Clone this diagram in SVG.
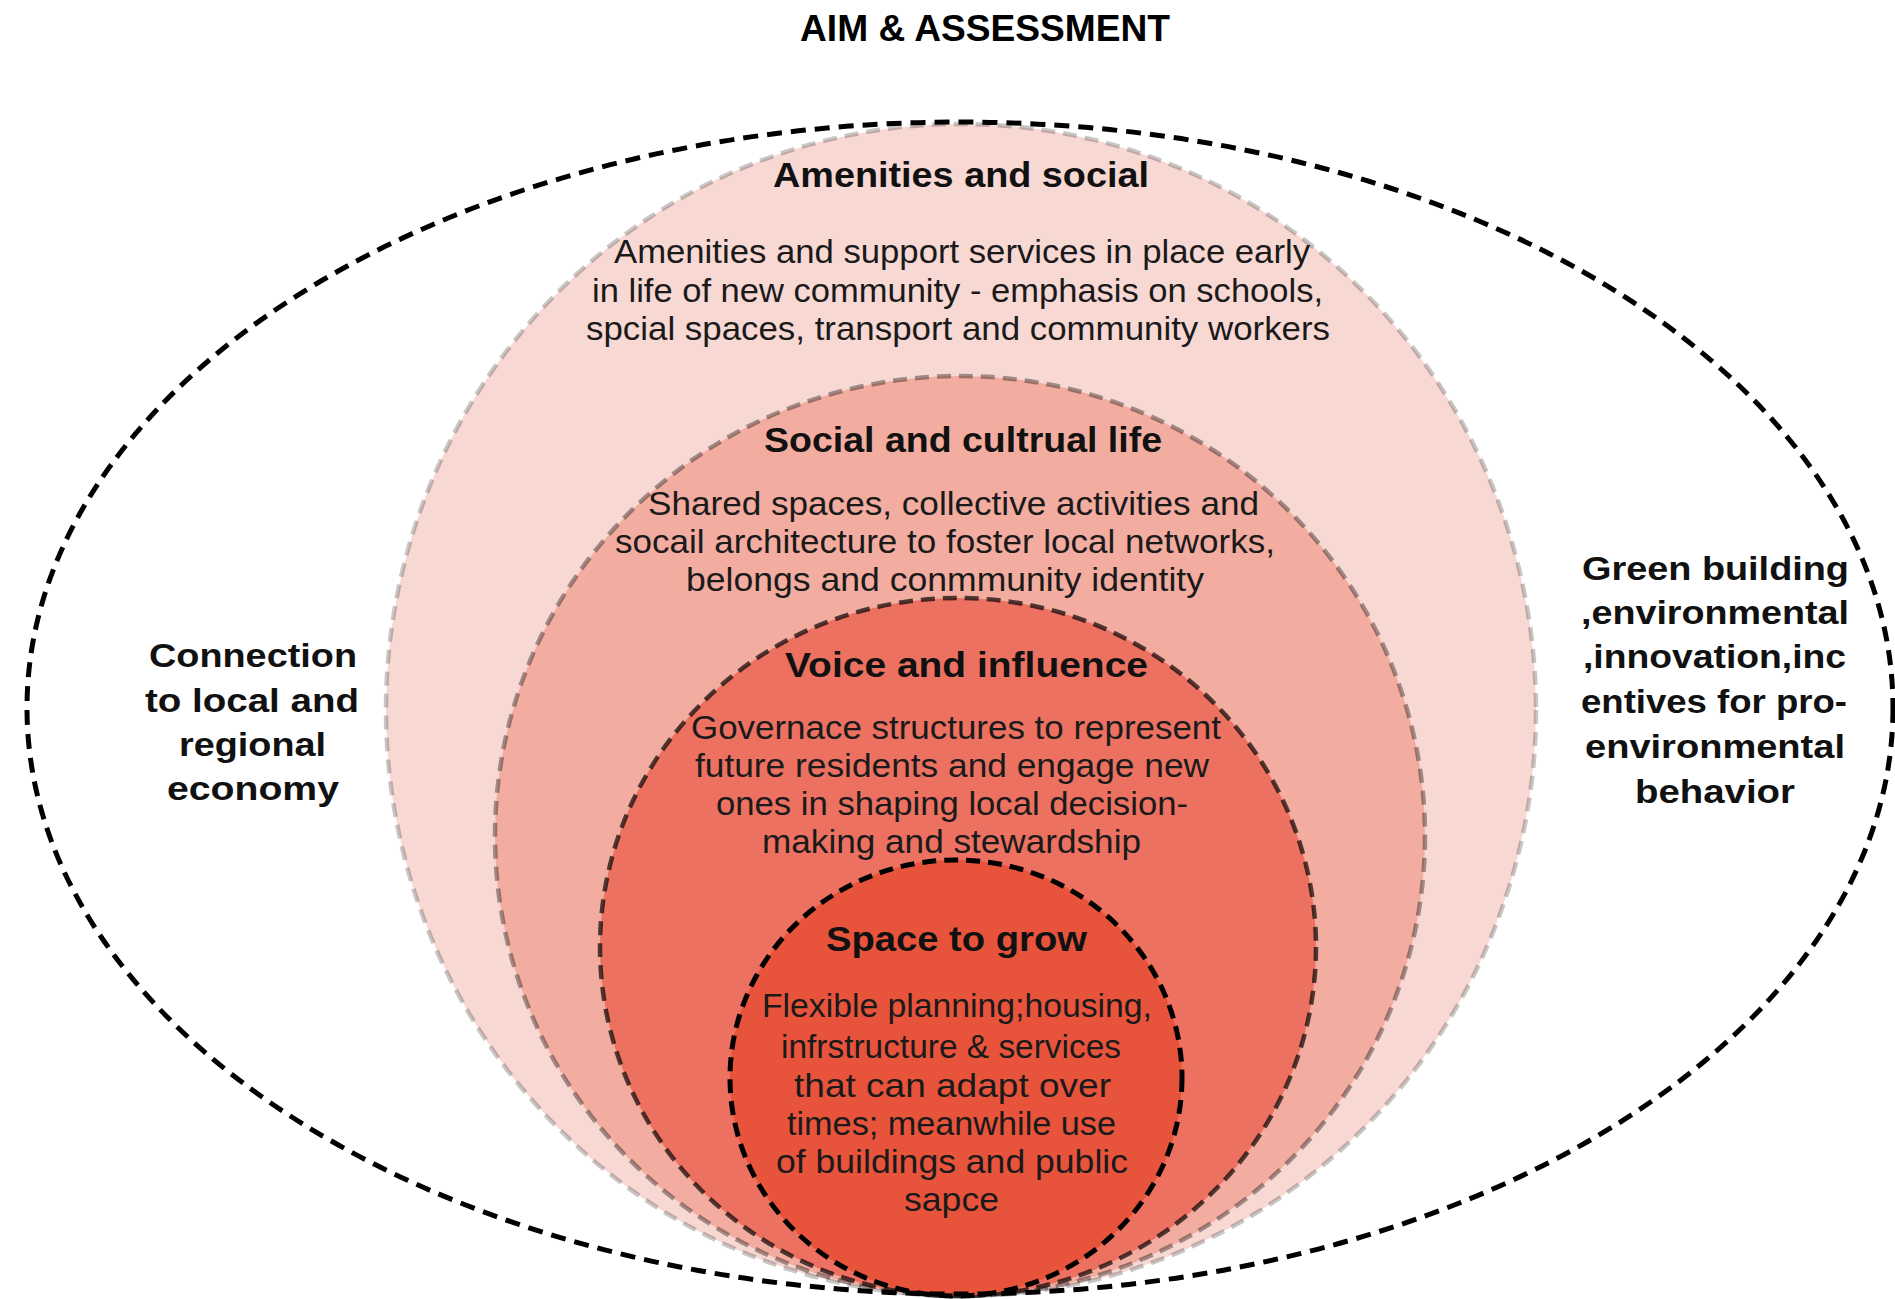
<svg xmlns="http://www.w3.org/2000/svg" width="1895" height="1299" viewBox="0 0 1895 1299">
<style>
  .h { font-family: "Liberation Sans", Arial, sans-serif; font-weight: bold; font-size: 35px; fill: #111; text-anchor: middle; }
  .b { font-family: "Liberation Sans", Arial, sans-serif; font-size: 34px; fill: #1a1a1a; text-anchor: middle; }
  .lab { font-family: "Liberation Sans", Arial, sans-serif; font-weight: bold; font-size: 34px; fill: #111; text-anchor: middle; }
  .title { font-family: "Liberation Sans", Arial, sans-serif; font-weight: bold; font-size: 36px; fill: #000; text-anchor: middle; }
  .ring { stroke: #000; stroke-width: 4.5; stroke-dasharray: 14 8; }
  .amen { fill: #F8D8D3; stroke-opacity: 0.22; }
  .social { fill: #F3ACA0; stroke-opacity: 0.36; }
  .voice { fill: #EC7161; stroke-opacity: 0.68; }
  .space { fill: #E8533B; stroke-opacity: 1; stroke-width: 5; }
  .outer { fill: none; stroke: #000; stroke-width: 5; stroke-dasharray: 15 9; }
</style>
<rect width="1895" height="1299" fill="#fff"/>

<g id="title">
  <text class="title" x="985" y="41" textLength="370" lengthAdjust="spacingAndGlyphs">AIM &amp; ASSESSMENT</text>
</g>

<g id="amenities">
  <ellipse class="ring amen" cx="961" cy="710" rx="575" ry="586"/>
  <text class="h" x="961" y="187" textLength="376" lengthAdjust="spacingAndGlyphs">Amenities and social</text>
  <text class="b" x="962" y="263" textLength="696" lengthAdjust="spacingAndGlyphs">Amenities and support services in place early</text>
  <text class="b" x="957.5" y="301.5" textLength="731" lengthAdjust="spacingAndGlyphs">in life of new community - emphasis on schools,</text>
  <text class="b" x="958" y="340" textLength="744" lengthAdjust="spacingAndGlyphs">spcial spaces, transport and community workers</text>
</g>

<g id="social">
  <ellipse class="ring social" cx="960" cy="836" rx="465" ry="460"/>
  <text class="h" x="963" y="451.5" textLength="398" lengthAdjust="spacingAndGlyphs">Social and cultrual life</text>
  <text class="b" x="953.5" y="515" textLength="611" lengthAdjust="spacingAndGlyphs">Shared spaces, collective activities and</text>
  <text class="b" x="945" y="553" textLength="660" lengthAdjust="spacingAndGlyphs">socail architecture to foster local networks,</text>
  <text class="b" x="945" y="591" textLength="518" lengthAdjust="spacingAndGlyphs">belongs and conmmunity identity</text>
</g>

<g id="voice">
  <ellipse class="ring voice" cx="958" cy="947" rx="358" ry="349"/>
  <text class="h" x="966.5" y="677" textLength="363" lengthAdjust="spacingAndGlyphs">Voice and influence</text>
  <text class="b" x="956" y="739" textLength="530" lengthAdjust="spacingAndGlyphs">Governace structures to represent</text>
  <text class="b" x="952" y="777" textLength="514" lengthAdjust="spacingAndGlyphs">future residents and engage new</text>
  <text class="b" x="952" y="815" textLength="472" lengthAdjust="spacingAndGlyphs">ones in shaping local decision-</text>
  <text class="b" x="951.5" y="853" textLength="379" lengthAdjust="spacingAndGlyphs">making and stewardship</text>
</g>

<g id="space">
  <ellipse class="ring space" cx="956" cy="1078" rx="226" ry="218"/>
  <text class="h" x="956.5" y="951" textLength="261" lengthAdjust="spacingAndGlyphs">Space to grow</text>
  <text class="b" x="957" y="1017" textLength="390" lengthAdjust="spacingAndGlyphs">Flexible planning;housing,</text>
  <text class="b" x="951" y="1058" textLength="340" lengthAdjust="spacingAndGlyphs">infrstructure &amp; services</text>
  <text class="b" x="952.5" y="1096.5" textLength="317" lengthAdjust="spacingAndGlyphs">that can adapt over</text>
  <text class="b" x="951.5" y="1135" textLength="329" lengthAdjust="spacingAndGlyphs">times; meanwhile use</text>
  <text class="b" x="952" y="1173" textLength="352" lengthAdjust="spacingAndGlyphs">of buildings and public</text>
  <text class="b" x="951.5" y="1211" textLength="95" lengthAdjust="spacingAndGlyphs">sapce</text>
</g>

<g id="outer">
  <ellipse class="outer" cx="960" cy="708" rx="933" ry="586"/>
</g>

<g id="economy">
  <text class="lab" x="253" y="667" textLength="208" lengthAdjust="spacingAndGlyphs">Connection</text>
  <text class="lab" x="252" y="712" textLength="214" lengthAdjust="spacingAndGlyphs">to local and</text>
  <text class="lab" x="252.5" y="756" textLength="147" lengthAdjust="spacingAndGlyphs">regional</text>
  <text class="lab" x="253" y="800" textLength="172" lengthAdjust="spacingAndGlyphs">economy</text>
</g>

<g id="green">
  <text class="lab" x="1715.5" y="580" textLength="267" lengthAdjust="spacingAndGlyphs">Green building</text>
  <text class="lab" x="1715" y="624" textLength="268" lengthAdjust="spacingAndGlyphs">,environmental</text>
  <text class="lab" x="1714.5" y="668" textLength="263" lengthAdjust="spacingAndGlyphs">,innovation,inc</text>
  <text class="lab" x="1714" y="713" textLength="266" lengthAdjust="spacingAndGlyphs">entives for pro-</text>
  <text class="lab" x="1715" y="758" textLength="260" lengthAdjust="spacingAndGlyphs">environmental</text>
  <text class="lab" x="1715" y="803" textLength="160" lengthAdjust="spacingAndGlyphs">behavior</text>
</g>
</svg>
